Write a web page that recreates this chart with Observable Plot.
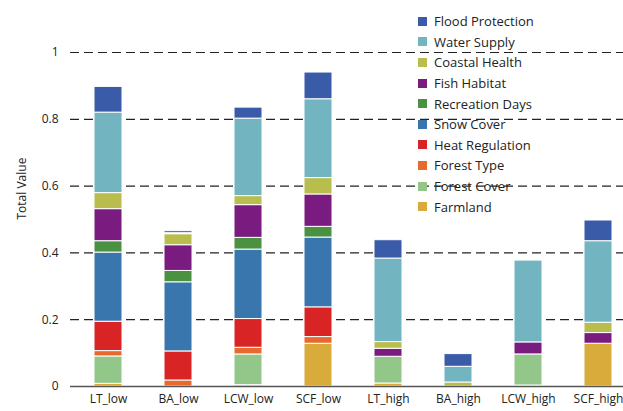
<!DOCTYPE html>
<html><head><meta charset="utf-8">
<script src="https://cdn.jsdelivr.net/npm/d3@7"></script>
<script src="https://cdn.jsdelivr.net/npm/@observablehq/plot@0.6"></script>
<style>
body{margin:0;font-family:'Open Sans',sans-serif;background:#fff}
#wrap{position:relative;width:623px;height:411px}
#legend{position:absolute;left:418px;top:11px;font-size:13px;color:#222}
#legend div{height:20.6px;display:flex;align-items:center}
#legend span{display:inline-block;width:9px;height:9px;margin-right:7px}
</style></head><body>
<div id="wrap"><div id="chart"></div><div id="legend"></div></div>
<script>
const scenarios = ['LT_low','BA_low','LCW_low','SCF_low','LT_high','BA_high','LCW_high','SCF_high'];
const services = ['Farmland','Forest Cover','Forest Type','Heat Regulation','Snow Cover','Recreation Days','Fish Habitat','Coastal Health','Water Supply','Flood Protection'];
const colors = ['#d9ab3b','#93c78a','#e8692d','#d82424','#3876ad','#4a9142','#7a1b80','#b8bd4e','#72b4c0','#3a5ca8'];
// one array per service, in scenario order
const farmland      = [0.008, 0,     0.004, 0.128, 0.009, 0,     0.003, 0.128];
const forestCover   = [0.082, 0,     0.092, 0,     0.080, 0,     0.093, 0];
const forestType    = [0.016, 0.018, 0.020, 0.020, 0,     0,     0,     0];
const heatReg       = [0.088, 0.087, 0.086, 0.089, 0,     0,     0,     0];
const snowCover     = [0.207, 0.207, 0.208, 0.209, 0,     0,     0,     0];
const recreation    = [0.034, 0.034, 0.035, 0.032, 0,     0,     0,     0];
const fishHabitat   = [0.096, 0.077, 0.098, 0.097, 0.024, 0,     0.036, 0.032];
const coastalHealth = [0.048, 0.033, 0.027, 0.049, 0.020, 0.012, 0,     0.031];
const waterSupply   = [0.241, 0.003, 0.232, 0.236, 0.250, 0.047, 0.245, 0.244];
const floodProt     = [0.077, 0.006, 0.033, 0.080, 0.055, 0.038, 0,     0.062];
const series = [farmland, forestCover, forestType, heatReg, snowCover, recreation, fishHabitat, coastalHealth, waterSupply, floodProt];

const data = [];
services.forEach((s, i) => scenarios.forEach((sc, j) => data.push({scenario: sc, service: s, value: series[i][j]})));

const chart = Plot.plot({
  width: 623, height: 411,
  marginLeft: 70, marginRight: 0, marginTop: 52, marginBottom: 25,
  style: {fontFamily: "'Open Sans',sans-serif", fontSize: '12px', color: '#222'},
  x: {domain: scenarios, range: [73, 633], paddingInner: 0.6, paddingOuter: 0.3, label: null, tickSize: 0, tickPadding: 8},
  y: {domain: [0, 1], ticks: [0, 0.2, 0.4, 0.6, 0.8, 1], tickFormat: d => String(d), label: null, tickSize: 0, tickPadding: 12},
  color: {domain: services, range: colors},
  marks: [
    Plot.ruleY([0.2, 0.4, 0.6, 0.8, 1], {stroke: '#222', strokeDasharray: '9,5', strokeWidth: 1.2}),
    Plot.barY(data, {x: 'scenario', y: 'value', fill: 'service', order: services, stroke: 'white', strokeWidth: 1}),
    Plot.ruleY([0], {stroke: '#555', strokeWidth: 1.5}),
    Plot.text(['Total Value'], {frameAnchor: 'left', dx: -48, rotate: -90, fontSize: 12})
  ]
});
d3.select('#chart').append(() => chart);

const leg = d3.select('#legend');
services.slice().reverse().forEach((s, k) => {
  const c = colors[services.length - 1 - k];
  const row = leg.append('div');
  row.append('span').style('background', c);
  row.append('text').text(s);
});
</script></body></html>
